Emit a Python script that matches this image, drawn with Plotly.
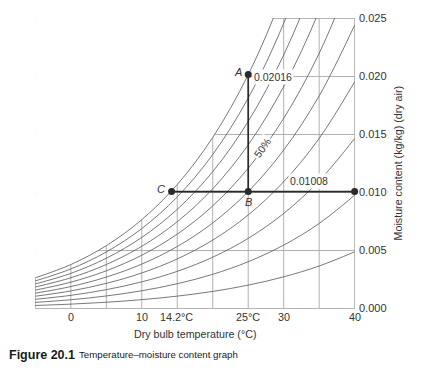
import plotly.graph_objects as go

# ---- data ----
temps = [-5, 0, 5, 10, 15, 20, 25, 30, 35, 40]                      # dry bulb (°C)
sat_moisture = [0.00265, 0.00379, 0.00542, 0.00766, 0.01069,
                0.01475, 0.02016, 0.02732, 0.03666, 0.04886]        # 100 % curve (kg/kg)
percent_saturation = [10, 20, 30, 40, 50, 60, 70, 80, 90, 100]
grid_moisture = [0.000, 0.005, 0.010, 0.015, 0.020, 0.025]

point_names = ["A", "B", "C", ""]
point_temps = [25, 25, 14.2, 40]
point_moisture = [0.02016, 0.01008, 0.01008, 0.01008]

x_tick_vals = [0, 10, 14.2, 25, 30, 40]
x_tick_text = ["0", "10", "14.2°C", "25°C", "30", "40"]
y_tick_vals = [0.000, 0.005, 0.010, 0.015, 0.020, 0.025]

FONT = "Liberation Sans, Arial, Helvetica, sans-serif"
GRID = "#a8a8a8"
CURVE = "#555555"
DARK = "#2a2a2a"

fig = go.Figure()

# ---- grid (below traces), later masked above the saturation curve ----
shapes = []
for i, t in enumerate(temps):
    top = sat_moisture[0] if i == 0 else grid_moisture[-1]
    shapes.append(dict(type="line", xref="x", yref="y", x0=t, x1=t, y0=grid_moisture[0], y1=top,
                       line=dict(color=GRID, width=0.9), layer="below"))
for w in grid_moisture:
    shapes.append(dict(type="line", xref="x", yref="y", x0=temps[0], x1=temps[-1], y0=w, y1=w,
                       line=dict(color=GRID, width=0.9), layer="below"))

# white mask above the saturation curve
fig.add_trace(go.Scatter(x=temps, y=[0.03] * len(temps), mode="lines",
                         line=dict(width=0), hoverinfo="skip", showlegend=False))
fig.add_trace(go.Scatter(x=temps, y=sat_moisture, mode="lines", fill="tonexty",
                         fillcolor="white", line=dict(width=0, shape="spline"),
                         hoverinfo="skip", showlegend=False))

# percentage saturation curves
for p in percent_saturation:
    fig.add_trace(go.Scatter(x=temps, y=[p / 100 * w for w in sat_moisture], mode="lines",
                             line=dict(color=CURVE, width=0.8, shape="spline"),
                             showlegend=False, name=f"{p}%"))

# process lines A-B and C-B-end
fig.add_trace(go.Scatter(
    x=[point_temps[0], point_temps[1], None, point_temps[2], point_temps[3]],
    y=[point_moisture[0], point_moisture[1], None, point_moisture[2], point_moisture[3]],
    mode="lines", line=dict(color=DARK, width=1.7), showlegend=False))
fig.add_trace(go.Scatter(x=point_temps, y=point_moisture, mode="markers",
                         marker=dict(color=DARK, size=7), cliponaxis=False, showlegend=False))

ann = []
# x tick labels
for v, s in zip(x_tick_vals, x_tick_text):
    ann.append(dict(x=v, y=-0.029, xref="x", yref="paper", text=s, showarrow=False,
                    xanchor="center", yanchor="middle", xshift=5 if v == 14.2 else 0,
                    font=dict(size=10.8, color="#333333")))
# point letters
ann.append(dict(x=point_temps[0], y=point_moisture[0], text="<i>A</i>", showarrow=False,
                xanchor="right", yanchor="middle", xshift=-4, yshift=3,
                font=dict(size=11, color="#333333")))
ann.append(dict(x=point_temps[1], y=point_moisture[1], text="<i>B</i>", showarrow=False,
                xanchor="center", yanchor="middle", yshift=-10,
                font=dict(size=11, color="#333333")))
ann.append(dict(x=point_temps[2], y=point_moisture[2], text="<i>C</i>", showarrow=False,
                xanchor="right", yanchor="middle", xshift=-5, yshift=3,
                font=dict(size=11, color="#333333")))
# value labels
ann.append(dict(x=point_temps[0], y=point_moisture[0], text=f"{point_moisture[0]:.5f}",
                showarrow=False, xanchor="left", yanchor="middle", xshift=4, yshift=-2,
                bgcolor="white", font=dict(size=10.5, color="#333333")))
ann.append(dict(x=33.6, y=point_moisture[2], text=f"{point_moisture[2]:.5f}",
                showarrow=False, xanchor="center", yanchor="middle", yshift=11,
                bgcolor="white", font=dict(size=10.5, color="#333333")))
ann.append(dict(x=26.95, y=0.01384, text="50%", showarrow=False, textangle=-55,
                xanchor="center", yanchor="middle", bgcolor="white",
                font=dict(size=10.5, color="#333333")))
# axis titles
ann.append(dict(x=0.5, y=-0.086, xref="paper", yref="paper", text="Dry bulb temperature (°C)",
                showarrow=False, xanchor="center", yanchor="middle",
                font=dict(size=10.7, color="#333333")))
ann.append(dict(x=1.134, y=0.5, xref="paper", yref="paper",
                text="Moisture content (kg/kg) (dry air)", textangle=-90,
                showarrow=False, xanchor="center", yanchor="middle",
                font=dict(size=10.7, color="#333333")))
# caption
ann.append(dict(x=-0.0875, y=-0.158, xref="paper", yref="paper", text="<b>Figure 20.1</b>",
                showarrow=False, xanchor="left", yanchor="middle",
                font=dict(size=12.5, color="#1a1a1a")))
ann.append(dict(x=0.131, y=-0.158, xref="paper", yref="paper",
                text="Temperature–moisture content graph", showarrow=False,
                xanchor="left", yanchor="middle",
                font=dict(size=9.7, color="#1a1a1a")))

fig.update_layout(
    width=425, height=368,
    margin=dict(l=35, r=70, t=18, b=59),
    paper_bgcolor="white", plot_bgcolor="white",
    font=dict(family=FONT, color="#333333"),
    shapes=shapes, annotations=ann, showlegend=False,
    xaxis=dict(range=[-5.05, 40.05], showgrid=False, zeroline=False, showline=False,
               showticklabels=False, ticks="", fixedrange=True),
    yaxis=dict(range=[-0.00004, 0.02504], side="right", tickvals=y_tick_vals,
               tickformat=".3f", showgrid=False, zeroline=False, showline=False,
               ticks="", ticklabelstandoff=3, tickfont=dict(size=11, color="#333333"),
               fixedrange=True),
)

fig.write_html("out.html", config={"displayModeBar": False},
               post_script="document.body.style.margin='0px';")
